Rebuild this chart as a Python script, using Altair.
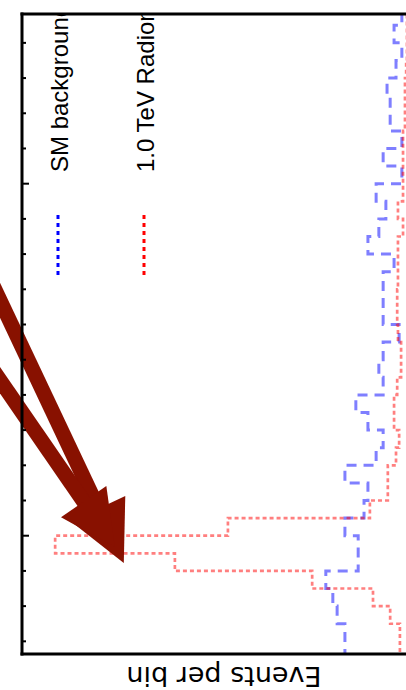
import altair as alt
import pandas as pd

# ---- data ----
bin_low_edges = [825, 850, 875, 900, 925, 950, 975, 1000, 1025, 1050, 1075, 1100,
                 1125, 1150, 1175, 1200, 1225, 1250, 1275, 1300, 1325, 1350, 1375,
                 1400, 1425, 1450, 1475, 1500, 1525, 1550, 1575, 1600, 1625, 1650,
                 1675, 1700, 1725]
bin_width = 25
sm_background = [17.2, 17.2, 19.2, 20.3, 22.1, 13.8, 13.8, 17.2, 12.3, 11.3, 17.2, 9.2,
                 7.4, 11.3, 14.4, 7.4, 8.5, 7.4, 3.3, 7.4, 7.4, 7.4, 4.6,
                 11.3, 8.5, 6.7, 9.2, 2.6, 7.4, 2.6, 5.6, 5.6, 6.4, 4.1,
                 2.6, 4.6, 2.6]
radion_1tev = [3.1, 3.1, 5.6, 10.0, 25.6, 60.8, 91.5, 47.2, 10.8, 6.2, 6.2, 4.1,
               3.3, 4.6, 4.6, 3.8, 2.8, 2.8, 3.6, 3.8, 3.8, 3.6, 3.6,
               3.6, 2.3, 3.6, 2.3, 2.3, 2.3, 2.3, 1.8, 1.8, 1.8, 1.5,
               1.3, 1.3, 1.3]
tick_minor = [850, 900, 950, 1050, 1100, 1150, 1200, 1250, 1300, 1350, 1400, 1450,
              1550, 1600, 1650, 1700]
tick_major = [1000, 1500]
legend_labels = ["SM background", "1.0 TeV Radion"]
legend_colors = ["#0000ff", "#ff0000"]

# annotation arrows (data units)
arrow_start_v = [110.8, 110.8]
arrow_start_m = [1395.0, 1262.4]
arrow_end_v = [78.2, 81.3]
arrow_end_m = [1012.4, 1025.2]
arrow_tip_v = [73.9, 76.2]
arrow_tip_m = [961.3, 984.0]
arrow_angles = [334.7, 325.5]
arrow_head_sizes = [14400, 12100]

W, H = 384, 640
ARROW = "#881100"

xscale = alt.Scale(domain=[1.54, 100], reverse=True, nice=False, zero=False)
yscale = alt.Scale(domain=[832, 1741], nice=False, zero=False)


def step_points(values):
    rows = []
    for i, (lo, val) in enumerate(zip(bin_low_edges, values)):
        rows.append({"m": lo, "events": val, "order": 2 * i})
        rows.append({"m": lo + bin_width, "events": val, "order": 2 * i + 1})
    return pd.DataFrame(rows)


def hist_layer(values, color, dash, width):
    return alt.Chart(step_points(values)).mark_line(
        clip=True, color=color, opacity=0.5, strokeDash=dash, strokeWidth=width
    ).encode(
        x=alt.X("events:Q", scale=xscale, axis=None),
        y=alt.Y("m:Q", scale=yscale, axis=None),
        order="order:Q",
    )


blue = hist_layer(sm_background, "#0000ff", [10, 7], 3)
red = hist_layer(radion_1tev, "#ff0000", [4, 3], 2.7)

arrows_df = pd.DataFrame({
    "v0": arrow_start_v, "m0": arrow_start_m,
    "v1": arrow_end_v, "m1": arrow_end_m,
})
shafts = alt.Chart(arrows_df).mark_rule(color=ARROW, strokeWidth=15, strokeCap="butt").encode(
    x=alt.X("v0:Q", scale=xscale, axis=None),
    x2="v1:Q",
    y=alt.Y("m0:Q", scale=yscale, axis=None),
    y2="m1:Q",
)

head_path = "M0,0L-0.5,-1L0.5,-1Z"
heads = []
for tv, tm, ang, sz in zip(arrow_tip_v, arrow_tip_m, arrow_angles, arrow_head_sizes):
    heads.append(
        alt.Chart(pd.DataFrame({"v": [tv], "m": [tm]})).mark_point(
            shape=head_path, filled=True, fill=ARROW, strokeWidth=0,
            opacity=1, size=sz, angle=ang
        ).encode(
            x=alt.X("v:Q", scale=xscale, axis=None),
            y=alt.Y("m:Q", scale=yscale, axis=None),
        )
    )

one = pd.DataFrame({"a": [0]})
frame_top = alt.Chart(one).mark_rule(color="black", strokeWidth=3).encode(
    x=alt.value(-1.5), x2=alt.value(W + 20), y=alt.value(0))
frame_left = alt.Chart(one).mark_rule(color="black", strokeWidth=3).encode(
    x=alt.value(0), y=alt.value(-1.5), y2=alt.value(H + 1.5))
frame_bottom = alt.Chart(one).mark_rule(color="black", strokeWidth=3).encode(
    x=alt.value(-1.5), x2=alt.value(W + 20), y=alt.value(H))

minor_ticks = alt.Chart(pd.DataFrame({"m": tick_minor})).mark_rule(
    color="black", strokeWidth=2).encode(
    y=alt.Y("m:Q", scale=yscale, axis=None), x=alt.value(0), x2=alt.value(4))
major_ticks = alt.Chart(pd.DataFrame({"m": tick_major})).mark_rule(
    color="black", strokeWidth=2).encode(
    y=alt.Y("m:Q", scale=yscale, axis=None), x=alt.value(0), x2=alt.value(7))

legend_layers = []
legend_x = [36, 122]
for lab, col, lx in zip(legend_labels, legend_colors, legend_x):
    legend_layers.append(
        alt.Chart(one).mark_rule(color=col, strokeWidth=3, strokeDash=[4, 4]).encode(
            x=alt.value(lx), y=alt.value(201), y2=alt.value(261))
    )
    legend_layers.append(
        alt.Chart(pd.DataFrame({"t": [lab]})).mark_text(
            angle=270, align="left", baseline="alphabetic", font="Liberation Sans",
            fontSize=24, color="black", clip=True
        ).encode(x=alt.value(lx + 10), y=alt.value(158), text="t:N")
    )

title = alt.Chart(pd.DataFrame({"t": ["Events per bin"]})).mark_text(
    angle=180, align="center", baseline="alphabetic", font="DejaVu Sans",
    fontSize=27, color="black"
).encode(x=alt.value(202), y=alt.value(653), text="t:N")

chart = alt.layer(
    blue, red, shafts, *heads, frame_top, frame_left, frame_bottom,
    minor_ticks, major_ticks, *legend_layers, title
).properties(
    width=W, height=H,
    autosize=alt.AutoSizeParams(type="none"),
    padding={"left": 22, "top": 14, "right": 0, "bottom": 36},
).configure_view(strokeWidth=0)

chart.save("out.html", embed_options={"renderer": "svg", "actions": False})
